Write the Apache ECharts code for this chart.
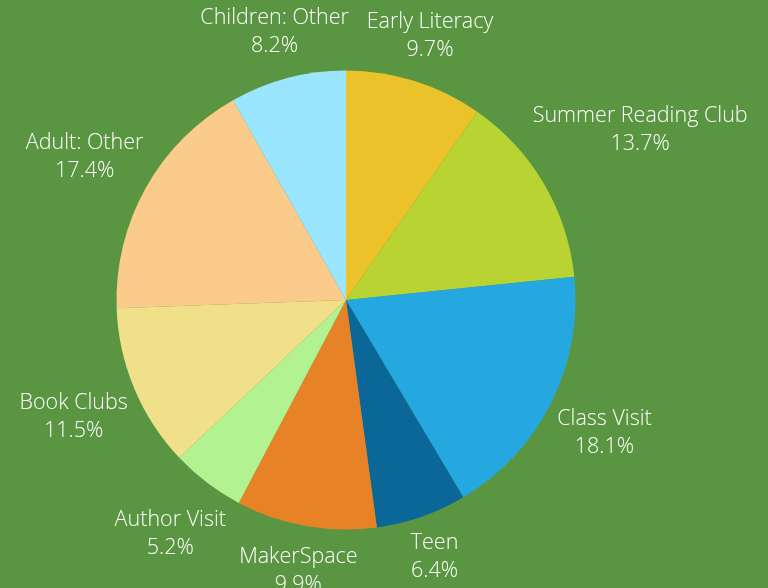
<!DOCTYPE html>
<html>
<head>
<meta charset="utf-8">
<script src="https://cdn.jsdelivr.net/npm/echarts@6/dist/echarts.min.js"></script>
<style>
html,body{margin:0;padding:0;background:#5a9641;}
#chart{width:768px;height:588px;}
</style>
</head>
<body>
<div id="chart"></div>
<script>
const categories = ['Early Literacy','Summer Reading Club','Class Visit','Teen','MakerSpace','Author Visit','Book Clubs','Adult: Other','Children: Other'];
const values = [9.7, 13.7, 18.1, 6.4, 9.9, 5.2, 11.5, 17.4, 8.2];
const colors = ['#ebc22a','#b9d432','#25a8e0','#0a6798','#e88226','#b2f290','#f1e08a','#fbcb8b','#9be6ff'];

const CX = 346, CY = 300, R = 229.5, OFF = 5, DY = 3;
const total = values.reduce((a,b)=>a+b,0);
const mids = [];
let acc = 0;
values.forEach(v => { mids.push((acc + v/2) / total * 2 * Math.PI); acc += v; });

const chart = echarts.init(document.getElementById('chart'));
chart.setOption({
  backgroundColor: '#5a9641',
  animation: false,
  series: [{
    type: 'pie',
    center: [CX, CY],
    radius: [0, R],
    startAngle: 90,
    clockwise: true,
    avoidLabelOverlap: false,
    data: categories.map((c,i)=>({name:c, value: values[i], itemStyle:{color: colors[i]}})),
    itemStyle: { borderWidth: 0 },
    label: {
      show: true,
      position: 'inside',
      formatter: p => p.name + '\n' + p.value.toFixed(1) + '%',
      color: '#ffffff',
      fontFamily: 'Open Sans',
      fontWeight: 300,
      fontSize: 21.5,
      lineHeight: 28,
      align: 'center'
    },
    labelLine: { show: false },
    emphasis: { disabled: true },
    labelLayout: function (params) {
      const a = mids[params.dataIndex];
      const vx = Math.sin(a), vy = -Math.cos(a);
      const w = params.labelRect.width, h = params.labelRect.height;
      const s = Math.abs(vx) * w / 2 + Math.abs(vy) * h / 2;
      const d = R + OFF + s;
      return { x: CX + vx * d, y: CY + vy * d + DY, align: 'center', verticalAlign: 'middle' };
    }
  }]
});
</script>
</body>
</html>
